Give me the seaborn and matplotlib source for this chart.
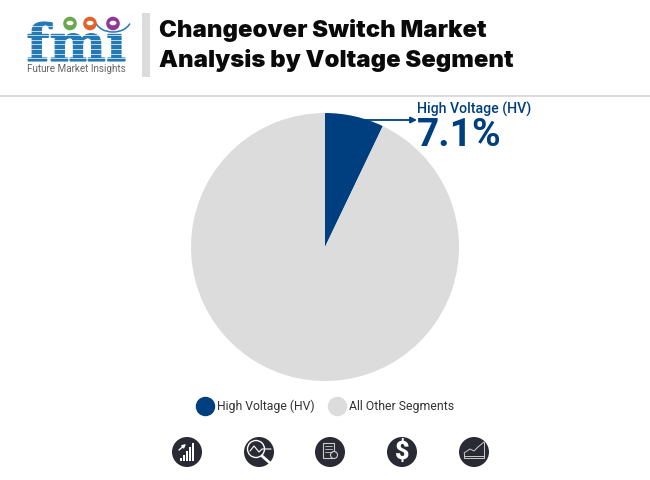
import numpy as np
import seaborn as sns
import matplotlib.pyplot as plt
from matplotlib.font_manager import FontProperties
from matplotlib.lines import Line2D
from matplotlib.patches import Circle, Arc, Ellipse, Rectangle, PathPatch
from matplotlib.textpath import TextPath
from matplotlib.transforms import Affine2D

# chart data
segments = ["High Voltage (HV)", "All Other Segments"]
shares = [7.1, 92.9]
title_lines = ["Changeover Switch Market", "Analysis by Voltage Segment"]
callout_value = "7.1%"

NAVY = "#003f7f"
GREY = "#dcdcdc"
ICON = "#2a2a35"
LOGO = "#2379b5"

sns.set_theme(style="white")
plt.rcParams["font.family"] = ["Roboto", "DejaVu Sans"]

fig = plt.figure(figsize=(6.5, 4.8), dpi=100)

# overlay in pixel coordinates for header, logo and icons
bg = fig.add_axes([0, 0, 1, 1])
bg.set_xlim(0, 650)
bg.set_ylim(480, 0)
bg.axis("off")

# pie: centre (325, 247), radius 134 px
pie_ax = fig.add_axes([(325 - 135) / 650, (480 - 247 - 135) / 480, 270 / 650, 270 / 480])
pie_ax.pie(shares, colors=[NAVY, GREY], startangle=90, counterclock=False, radius=134 / 135,
           wedgeprops=dict(lw=0))
pie_ax.set_xlim(-1, 1)
pie_ax.set_ylim(-1, 1)

# header
bg.add_patch(Rectangle((142, 13), 8, 64, color=GREY, lw=0))
bg.plot([0, 650], [95.5, 95.5], color=GREY, lw=1.4)
for line, y in zip(title_lines, [31, 60.5]):
    bg.text(159, y, line, family=["Inter", "Roboto"], fontsize=17.2, fontweight="black",
            color="#0a0a0a", va="center", ha="left")

# logo: letters fitted to their box, then cut by white stripes
tp = TextPath((0, 0), "fm\u0131", size=10, prop=FontProperties(family="DejaVu Serif", weight="bold"))
ext = tp.get_extents()
sx = (125 - 28) / ext.width
sy = (61 - 22) / ext.height
fit = Affine2D().translate(-ext.x0, -ext.y0).scale(sx, -sy).translate(28, 61)
bg.add_patch(PathPatch(tp, transform=fit + bg.transData, fc=LOGO, ec=LOGO, lw=0.8, zorder=3))
for y in np.arange(26, 61, 4.6):
    bg.plot([24, 129], [y, y], color="white", lw=0.5, zorder=4)
for x, c in zip([70, 90, 113], ["#6aa84f", "#e2622b", "#8e3a96"]):
    bg.add_patch(Circle((x, 23.5), 7.8, color="white", lw=0, zorder=5))
    bg.add_patch(Circle((x, 23.5), 6.8, color=c, lw=0, zorder=6))
    bg.add_patch(Ellipse((x, 23), 7, 4.5, color="white", lw=0, zorder=7))
bg.add_patch(Arc((113, 19), 36, 26, theta1=15, theta2=165, color=LOGO, lw=1.1, zorder=5))
bg.text(76.5, 69, "Future Market Insights", fontsize=7.1, color="#666666", ha="center", va="center")

# callout
bg.annotate("", xy=(417, 120), xytext=(365, 120),
            arrowprops=dict(arrowstyle="-|>", color=NAVY, lw=1.3, mutation_scale=9, shrinkA=0, shrinkB=0))
bg.text(417, 109.5, segments[0], fontsize=10.15, fontweight="medium", color=NAVY, ha="left", va="center")
bg.text(417, 135, callout_value, fontsize=28, fontweight="bold", color=NAVY, ha="left", va="center")

# legend
handles = [Line2D([], [], ls="", marker="o", ms=13, mfc=c, mec=c) for c in [NAVY, GREY]]
fig.legend(handles, segments, loc="center", bbox_to_anchor=(323.5 / 650, 1 - 406.5 / 480), ncol=2,
           frameon=False, fontsize=8.8, handletextpad=-0.05, columnspacing=0.85, labelcolor="#333333")

# footer icons
icon_x = [187, 259, 330, 402, 474]
for x in icon_x:
    bg.add_patch(Circle((x, 452), 15, color=ICON, lw=0))

# bars with arrow
for i, h in enumerate([3, 6, 10, 14, 18]):
    bg.add_patch(Rectangle((180 + i * 3, 461 - h), 1.9, h, color="white", lw=0))
bg.annotate("", xy=(186, 444), xytext=(179, 450),
            arrowprops=dict(arrowstyle="-|>", color="white", lw=1, mutation_scale=5, shrinkA=0, shrinkB=0))

# magnifier
bg.add_patch(Circle((256, 449), 8.5, fill=False, ec="white", lw=1))
bg.plot([250, 254, 259, 262, 271], [451, 446, 452, 449, 449], color="white", lw=0.8)
bg.plot([262, 270], [456, 463], color="white", lw=2)

# report
bg.add_patch(Rectangle((323, 443), 11, 15, fill=False, ec="#cccccc", lw=0.8))
for y in [446, 449, 452]:
    bg.plot([325, 332], [y, y], color="#cccccc", lw=0.6)
bg.add_patch(Circle((334, 455), 3.5, color=ICON, ec="#cccccc", lw=0.8))

# dollar
bg.text(402, 452, "$", fontsize=18, fontweight="black", color="white", ha="center", va="center")

# area line
bg.plot([464, 470, 474, 478, 484], [453, 449, 451, 447, 442], color="#cccccc", lw=0.7)
bg.plot([484, 484, 464, 464], [442, 458, 458, 453], color="#cccccc", lw=0.7)
bg.plot([464, 484], [456, 456], color="#cccccc", lw=0.7)

fig.savefig("out.png", dpi=100, facecolor="white")
